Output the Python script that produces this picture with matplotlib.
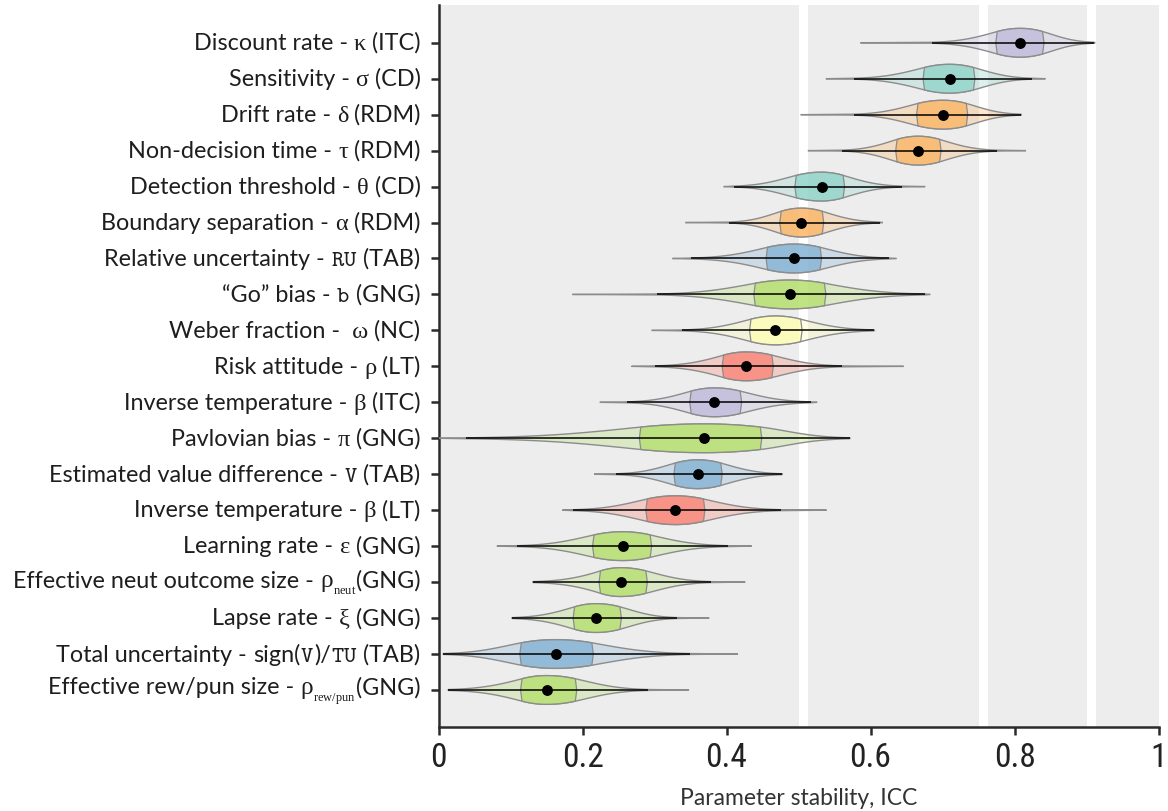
import numpy as np
import matplotlib
matplotlib.use("Agg")
import matplotlib.pyplot as plt
from matplotlib import font_manager
from matplotlib.offsetbox import TextArea, HPacker, AnnotationBbox

# parameter names, model symbols and task of each row (top to bottom)
param_names = ["Discount rate", "Sensitivity", "Drift rate", "Non-decision time",
               "Detection threshold", "Boundary separation", "Relative uncertainty",
               "\u201cGo\u201d bias", "Weber fraction", "Risk attitude",
               "Inverse temperature", "Pavlovian bias", "Estimated value difference",
               "Inverse temperature", "Learning rate", "Effective neut outcome size",
               "Lapse rate", "Total uncertainty", "Effective rew/pun size"]
symbols = ["κ", "σ", "δ", "τ", "θ", "α", "tt:RU", "tt:b", " ω", "ρ", "β", "π",
           "tt:V", "β", "ε", "sub:ρ:neut", "ξ", "sign(|tt:V|)/|tt:TU", "sub:ρ:rew/pun"]
tasks = ["ITC", "CD", "RDM", "RDM", "CD", "RDM", "TAB", "GNG", "NC", "LT",
         "ITC", "GNG", "TAB", "LT", "GNG", "GNG", "GNG", "TAB", "GNG"]

# ICC posterior summaries: full range, 95% interval, quartiles, median
icc_min = [0.586, 0.538, 0.503, 0.513, 0.396, 0.343, 0.325, 0.186, 0.296, 0.268,
           0.224, 0.000, 0.216, 0.172, 0.081, 0.131, 0.102, 0.0065, 0.0134]
ci_low = [0.685, 0.577, 0.577, 0.560, 0.410, 0.403, 0.351, 0.303, 0.338, 0.301,
          0.262, 0.0375, 0.247, 0.187, 0.109, 0.131, 0.102, 0.0065, 0.0134]
q25 = [0.776, 0.675, 0.666, 0.637, 0.497, 0.476, 0.457, 0.440, 0.434, 0.396,
       0.351, 0.281, 0.329, 0.290, 0.216, 0.225, 0.189, 0.115, 0.116]
median = [0.808, 0.710, 0.701, 0.666, 0.532, 0.504, 0.494, 0.488, 0.468, 0.427,
          0.383, 0.369, 0.360, 0.329, 0.256, 0.253, 0.219, 0.1625, 0.150]
q75 = [0.839, 0.743, 0.733, 0.696, 0.562, 0.533, 0.530, 0.536, 0.503, 0.463,
       0.419, 0.447, 0.392, 0.368, 0.294, 0.288, 0.252, 0.213, 0.190]
ci_high = [0.911, 0.824, 0.809, 0.776, 0.644, 0.613, 0.626, 0.676, 0.605, 0.561,
           0.517, 0.571, 0.477, 0.476, 0.402, 0.379, 0.331, 0.349, 0.291]
icc_max = [0.912, 0.843, 0.810, 0.816, 0.676, 0.617, 0.636, 0.683, 0.606, 0.646,
           0.526, 0.572, 0.478, 0.539, 0.435, 0.426, 0.376, 0.416, 0.348]

# ICC interpretation thresholds (poor / moderate / good / excellent)
icc_thresholds = [0.5, 0.75, 0.9]

xticks = [0, 0.2, 0.4, 0.6, 0.8, 1.0]
xtick_labels = ["0", "0.2", "0.4", "0.6", "0.8", "1"]

task_colors = {"ITC": "#bebada", "CD": "#8dd3c7", "RDM": "#fdb462", "TAB": "#80b1d3",
               "GNG": "#b3de69", "NC": "#ffffb3", "LT": "#fb8072"}

installed = {f.name for f in font_manager.fontManager.ttflist}
label_font = "Lato" if "Lato" in installed else "DejaVu Sans"
serif_font = "Liberation Serif" if "Liberation Serif" in installed else "DejaVu Serif"
tick_font = "DejaVu Sans"
for cand in ["Liberation Sans Narrow", "Roboto Condensed", "Roboto"]:
    if cand in installed:
        tick_font = cand
        break

plt.rcParams["mathtext.fontset"] = "custom"
plt.rcParams["mathtext.rm"] = serif_font

LS = 16.8          # label font size
TXT = "#1e1e1e"
HALF = 0.40        # violin half height in row units
EDGE = "#8c8c8c"


def half_width(x, lo, cl, a, m, b, ch, hi, edge=0.78):
    """violin profile (0..1) built from the summary quantiles"""
    w = np.zeros_like(x)
    core = (x >= a) & (x <= b)
    s = np.where(x < m, (m - x) / (m - a), (x - m) / (b - m))
    w[core] = 1 - (1 - edge) * s[core] ** 2
    for q, c, side in [(a, cl, -1), (b, ch, 1)]:
        span = abs(c - q)
        if span <= 0:
            continue
        k = 2 * (1 - edge) * span / (abs(q - m) * edge)
        k = min(k, 2.8)
        sel = (x < q) & (x >= c) if side < 0 else (x > q) & (x <= c)
        t = np.abs(x[sel] - q) / span
        w[sel] = edge * np.exp(-k * t - (3.2 - k) * t ** 2)
    tail = edge * np.exp(-3.2)
    sel = (x >= lo) & (x < cl)
    if cl > lo:
        w[sel] = tail * (x[sel] - lo) / (cl - lo)
    sel = (x > ch) & (x <= hi)
    if hi > ch:
        w[sel] = tail * (hi - x[sel]) / (hi - ch)
    return w


fig = plt.figure(figsize=(11.68, 8.12), dpi=100)
ax = fig.add_axes([438.5 / 1168, 84 / 812, 720 / 1168, 722 / 812])

# banded background
gap = 0.0125
starts = [0.0] + [t + gap for t in icc_thresholds]
ends = icc_thresholds + [1.0]
for s0, e0 in zip(starts, ends):
    ax.axvspan(s0, e0, color="#ededed", lw=0, zorder=0)

for i in range(len(param_names)):
    col = task_colors[tasks[i]]
    lo, cl, a, m, b, ch, hi = (icc_min[i], ci_low[i], q25[i], median[i],
                               q75[i], ci_high[i], icc_max[i])
    x = np.unique(np.concatenate([np.linspace(lo, hi, 500), [a, b]]))
    w = half_width(x, lo, cl, a, m, b, ch, hi)
    ax.fill(np.concatenate([x, x[::-1]]),
            np.concatenate([i - HALF * w, (i + HALF * w)[::-1]]),
            facecolor=col, alpha=0.3, edgecolor="none", zorder=2)
    ax.fill(np.concatenate([x, x[::-1]]),
            np.concatenate([i - HALF * w, (i + HALF * w)[::-1]]),
            facecolor="none", edgecolor=EDGE, lw=1.0, zorder=3)
    xi = np.linspace(a, b, 120)
    wi = half_width(xi, lo, cl, a, m, b, ch, hi)
    bulge = 0.002
    px = np.concatenate([xi, [b + bulge], xi[::-1], [a - bulge]])
    py = np.concatenate([i - HALF * wi, [i], (i + HALF * wi)[::-1], [i]])
    ax.fill(px, py, facecolor=col, alpha=0.75, edgecolor="none", zorder=4)
    ax.fill(px, py, facecolor="none", edgecolor=EDGE, lw=0.9, zorder=5)
    ax.plot([cl, ch], [i, i], color="black", lw=1.1, zorder=6, solid_capstyle="butt")
    ax.plot([m], [i], "o", color="black", ms=6.8, zorder=7)

ax.set_xlim(0, 1)
ax.set_ylim(len(param_names) - 1 + 1.03, -1.05)
ax.set_facecolor("white")
for sp in ["top", "right"]:
    ax.spines[sp].set_visible(False)
for sp in ["left", "bottom"]:
    ax.spines[sp].set_linewidth(1.8)
    ax.spines[sp].set_color("#2b2b2b")

ax.set_xticks(xticks)
ax.set_xticklabels(xtick_labels, fontfamily=tick_font, fontsize=24, color="#222222")
ax.set_yticks(range(len(param_names)))
ax.set_yticklabels([])
ax.tick_params(axis="both", length=6, width=1.8, color="#2b2b2b")
ax.tick_params(axis="x", pad=4)
ax.set_xlabel("Parameter stability, ICC", fontfamily=label_font, fontsize=16.5,
              color="#333333", labelpad=10)


def label_parts(i):
    parts = [("sans", param_names[i] + " - ")]
    subscript = False
    for seg in symbols[i].split("|"):
        if seg.startswith("tt:"):
            parts.append(("tt", seg[3:]))
        elif seg.startswith("sub:"):
            _, base, sub = seg.split(":")
            parts.append(("sub", (base, sub)))
            subscript = True
        elif len(seg.strip()) == 1 and "\u0370" <= seg.strip() <= "\u03ff":
            parts.append(("greek", seg))
        else:
            parts.append(("sans", seg))
    parts.append(("sans", ("(" if subscript else " (") + tasks[i] + ")"))
    return parts


for i in range(len(param_names)):
    kids = []
    for kind, txt in label_parts(i):
        if kind == "sans":
            ta = TextArea(txt, textprops=dict(family=label_font, size=LS, color=TXT))
        elif kind == "greek":
            ta = TextArea(txt, textprops=dict(family=serif_font, size=LS + 0.8, color=TXT))
        elif kind == "tt":
            ta = TextArea(r"$\mathtt{%s}$" % txt,
                          textprops=dict(size=LS, color=TXT, math_fontfamily="cm"))
        else:
            base, sub = txt
            ta = TextArea(r"$\mathrm{%s}_{_{\mathrm{%s}}}$" % (base, sub),
                          textprops=dict(size=LS + 1.5, color=TXT))
        kids.append(ta)
    box = HPacker(children=kids, align="baseline", pad=0, sep=0)
    ab = AnnotationBbox(box, (0, i), xycoords=ax.get_yaxis_transform(),
                        xybox=(-13, 0), boxcoords="offset points",
                        box_alignment=(1, 0.5), frameon=False, pad=0,
                        annotation_clip=False)
    ax.add_artist(ab)

fig.savefig("out.png", dpi=100)
